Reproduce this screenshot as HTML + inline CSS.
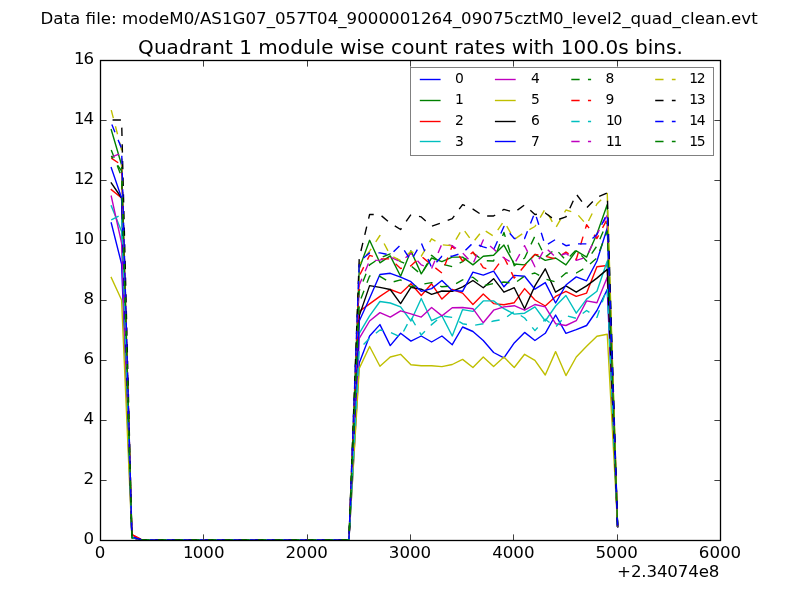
<!DOCTYPE html>
<html><head><meta charset="utf-8"><title>Quadrant 1 module wise count rates</title>
<style>html,body{margin:0;padding:0;background:#fff;width:800px;height:600px;overflow:hidden}svg{display:block;will-change:transform}</style></head><body>
<svg width="800" height="600" viewBox="0 0 800 600">
<defs><clipPath id="ax"><rect x="100" y="60" width="620" height="480"/></clipPath></defs>
<rect width="800" height="600" fill="#fff"/>
<g clip-path="url(#ax)" fill="none" stroke-width="1.39" stroke-linecap="square" stroke-linejoin="round">
<path d="M111.26 222.9 L121.6 264 L131.93 537.6 L142.26 540 L152.6 540 L162.93 540 L173.26 540 L183.6 540 L193.93 540 L204.26 540 L214.6 540 L224.93 540 L235.26 540 L245.6 540 L255.93 540 L266.26 540 L276.6 540 L286.93 540 L297.26 540 L307.6 540 L317.93 540 L328.26 540 L338.6 540 L348.93 540 L359.26 363 L369.6 336 L379.93 324.6 L390.26 345.6 L400.6 333.3 L410.93 341.1 L421.26 336 L431.6 342 L441.93 336 L452.26 344.7 L462.6 327 L472.93 331.5 L483.26 340.5 L493.6 352.5 L503.93 357.9 L514.26 342.9 L524.6 332.4 L534.93 340.5 L545.26 333.3 L555.6 315 L565.93 333.3 L576.26 329.7 L586.6 325.5 L596.93 310.5 L607.26 289.5 L617.6 526.5" stroke="#0000ff"/>
<path d="M111.26 129.6 L121.6 165 L131.93 537.6 L142.26 540 L152.6 540 L162.93 540 L173.26 540 L183.6 540 L193.93 540 L204.26 540 L214.6 540 L224.93 540 L235.26 540 L245.6 540 L255.93 540 L266.26 540 L276.6 540 L286.93 540 L297.26 540 L307.6 540 L317.93 540 L328.26 540 L338.6 540 L348.93 540 L359.26 268.5 L369.6 240.3 L379.93 262.8 L390.26 255.9 L400.6 276.3 L410.93 250.8 L421.26 273.9 L431.6 258 L441.93 261.6 L452.26 257.1 L462.6 257.1 L472.93 264.9 L483.26 256.2 L493.6 255.3 L503.93 245.1 L514.26 264 L524.6 264.9 L534.93 254.4 L545.26 260.4 L555.6 258 L565.93 264.9 L576.26 250.8 L586.6 257.1 L596.93 234 L607.26 204.6 L617.6 526.5" stroke="#008000"/>
<path d="M111.26 189.6 L121.6 198 L131.93 534.6 L142.26 540 L152.6 540 L162.93 540 L173.26 540 L183.6 540 L193.93 540 L204.26 540 L214.6 540 L224.93 540 L235.26 540 L245.6 540 L255.93 540 L266.26 540 L276.6 540 L286.93 540 L297.26 540 L307.6 540 L317.93 540 L328.26 540 L338.6 540 L348.93 540 L359.26 311.4 L369.6 303.9 L379.93 296.4 L390.26 289.5 L400.6 293.4 L410.93 283.8 L421.26 295.5 L431.6 283.8 L441.93 299.1 L452.26 289.5 L462.6 293.1 L472.93 304.5 L483.26 294 L493.6 303.6 L503.93 304.8 L514.26 302.7 L524.6 288.6 L534.93 300 L545.26 306 L555.6 296.4 L565.93 291.3 L576.26 296.4 L586.6 293.1 L596.93 266.7 L607.26 265.5 L617.6 526.5" stroke="#ff0000"/>
<path d="M111.26 205.8 L121.6 231.6 L131.93 537.6 L142.26 540 L152.6 540 L162.93 540 L173.26 540 L183.6 540 L193.93 540 L204.26 540 L214.6 540 L224.93 540 L235.26 540 L245.6 540 L255.93 540 L266.26 540 L276.6 540 L286.93 540 L297.26 540 L307.6 540 L317.93 540 L328.26 540 L338.6 540 L348.93 540 L359.26 333.3 L369.6 315.9 L379.93 301.5 L390.26 303 L400.6 306.9 L410.93 321 L421.26 298.5 L431.6 320.7 L441.93 315.9 L452.26 336 L462.6 309.6 L472.93 311.4 L483.26 300.9 L493.6 300.9 L503.93 308.7 L514.26 314.1 L524.6 313.2 L534.93 306.9 L545.26 321 L555.6 306 L565.93 295.5 L576.26 313.2 L586.6 299.1 L596.93 291.3 L607.26 261 L617.6 526.5" stroke="#00bfbf"/>
<path d="M111.26 196.2 L121.6 243 L131.93 537.6 L142.26 540 L152.6 540 L162.93 540 L173.26 540 L183.6 540 L193.93 540 L204.26 540 L214.6 540 L224.93 540 L235.26 540 L245.6 540 L255.93 540 L266.26 540 L276.6 540 L286.93 540 L297.26 540 L307.6 540 L317.93 540 L328.26 540 L338.6 540 L348.93 540 L359.26 338.4 L369.6 321 L379.93 312.6 L390.26 317.1 L400.6 310.8 L410.93 313.8 L421.26 317.1 L431.6 307.5 L441.93 315.9 L452.26 307.8 L462.6 307.5 L472.93 308.7 L483.26 322.8 L493.6 310.2 L503.93 306.9 L514.26 305.7 L524.6 310.2 L534.93 304.5 L545.26 306.9 L555.6 323.7 L565.93 325.5 L576.26 320.7 L586.6 300.9 L596.93 302.7 L607.26 277.2 L617.6 526.5" stroke="#bf00bf"/>
<path d="M111.26 277.5 L121.6 300 L131.93 537.6 L142.26 540 L152.6 540 L162.93 540 L173.26 540 L183.6 540 L193.93 540 L204.26 540 L214.6 540 L224.93 540 L235.26 540 L245.6 540 L255.93 540 L266.26 540 L276.6 540 L286.93 540 L297.26 540 L307.6 540 L317.93 540 L328.26 540 L338.6 540 L348.93 540 L359.26 368.4 L369.6 346.5 L379.93 366.3 L390.26 357 L400.6 354.3 L410.93 364.8 L421.26 365.7 L431.6 365.7 L441.93 366.6 L452.26 364.5 L462.6 359.4 L472.93 367.5 L483.26 357 L493.6 366.6 L503.93 357 L514.26 367.5 L524.6 354.3 L534.93 360.3 L545.26 375 L555.6 351.6 L565.93 375.6 L576.26 357 L586.6 346.2 L596.93 336.3 L607.26 334.2 L617.6 526.5" stroke="#bfbf00"/>
<path d="M111.26 183 L121.6 198 L131.93 537.6 L142.26 540 L152.6 540 L162.93 540 L173.26 540 L183.6 540 L193.93 540 L204.26 540 L214.6 540 L224.93 540 L235.26 540 L245.6 540 L255.93 540 L266.26 540 L276.6 540 L286.93 540 L297.26 540 L307.6 540 L317.93 540 L328.26 540 L338.6 540 L348.93 540 L359.26 315.9 L369.6 285.6 L379.93 287.4 L390.26 289.5 L400.6 303.6 L410.93 287.4 L421.26 289.2 L431.6 294.3 L441.93 291 L452.26 291.3 L462.6 286.8 L472.93 280.5 L483.26 287.7 L493.6 278.7 L503.93 292.2 L514.26 287.7 L524.6 308.7 L534.93 285.9 L545.26 268.8 L555.6 292.2 L565.93 285.9 L576.26 292.2 L586.6 285.9 L596.93 278.1 L607.26 269.4 L617.6 526.5" stroke="#000000"/>
<path d="M111.26 167.7 L121.6 198 L131.93 537 L142.26 540 L152.6 540 L162.93 540 L173.26 540 L183.6 540 L193.93 540 L204.26 540 L214.6 540 L224.93 540 L235.26 540 L245.6 540 L255.93 540 L266.26 540 L276.6 540 L286.93 540 L297.26 540 L307.6 540 L317.93 540 L328.26 540 L338.6 540 L348.93 540 L359.26 321 L369.6 298.2 L379.93 274.5 L390.26 273.3 L400.6 277.2 L410.93 281.7 L421.26 291.3 L431.6 288.6 L441.93 280.5 L452.26 290.4 L462.6 291.3 L472.93 272.1 L483.26 275.1 L493.6 271.2 L503.93 286.8 L514.26 275.4 L524.6 276.3 L534.93 289.2 L545.26 282.6 L555.6 303 L565.93 285 L576.26 276.9 L586.6 280.8 L596.93 261 L607.26 228 L617.6 526.5" stroke="#0000ff"/>
<path d="M111.26 150 L121.6 177 L131.93 537.6 L142.26 540 L152.6 540 L162.93 540 L173.26 540 L183.6 540 L193.93 540 L204.26 540 L214.6 540 L224.93 540 L235.26 540 L245.6 540 L255.93 540 L266.26 540 L276.6 540 L286.93 540 L297.26 540 L307.6 540 L317.93 540 L328.26 540 L338.6 540 L348.93 540 L359.26 291 L369.6 264.9 L379.93 258 L390.26 253.8 L400.6 261.6 L410.93 265.8 L421.26 274.5 L431.6 255.3 L441.93 264 L452.26 266.7 L462.6 261.6 L472.93 252.9 L483.26 260.7 L493.6 261 L503.93 232.5 L514.26 265.8 L524.6 258 L534.93 236.1 L545.26 257.1 L555.6 249 L565.93 260.4 L576.26 249.9 L586.6 261 L596.93 246 L607.26 222 L617.6 526.5" stroke="#008000" stroke-dasharray="8.33 8.33" stroke-linecap="butt"/>
<path d="M111.26 158.1 L121.6 165 L131.93 534.6 L142.26 540 L152.6 540 L162.93 540 L173.26 540 L183.6 540 L193.93 540 L204.26 540 L214.6 540 L224.93 540 L235.26 540 L245.6 540 L255.93 540 L266.26 540 L276.6 540 L286.93 540 L297.26 540 L307.6 540 L317.93 540 L328.26 540 L338.6 540 L348.93 540 L359.26 276 L369.6 255.3 L379.93 258.9 L390.26 258.9 L400.6 268.5 L410.93 265.8 L421.26 256.2 L431.6 264.9 L441.93 273 L452.26 245.7 L462.6 261 L472.93 252 L483.26 267.6 L493.6 270.9 L503.93 257.1 L514.26 278.1 L524.6 265.8 L534.93 254.4 L545.26 256.2 L555.6 258.9 L565.93 252 L576.26 259.5 L586.6 224.7 L596.93 238.5 L607.26 219 L617.6 526.5" stroke="#ff0000" stroke-dasharray="8.33 8.33" stroke-linecap="butt"/>
<path d="M111.26 219.9 L121.6 214.5 L131.93 537.6 L142.26 540 L152.6 540 L162.93 540 L173.26 540 L183.6 540 L193.93 540 L204.26 540 L214.6 540 L224.93 540 L235.26 540 L245.6 540 L255.93 540 L266.26 540 L276.6 540 L286.93 540 L297.26 540 L307.6 540 L317.93 540 L328.26 540 L338.6 540 L348.93 540 L359.26 348.9 L369.6 338.4 L379.93 330 L390.26 332.4 L400.6 336.9 L410.93 317.4 L421.26 335.1 L431.6 324.6 L441.93 315.9 L452.26 317.4 L462.6 323.7 L472.93 325.5 L483.26 323.7 L493.6 321 L503.93 319.2 L514.26 311.4 L524.6 318 L534.93 330.6 L545.26 319.2 L555.6 327 L565.93 315.6 L576.26 318.3 L586.6 310.5 L596.93 317.4 L607.26 287.7 L617.6 526.5" stroke="#00bfbf" stroke-dasharray="8.33 8.33" stroke-linecap="butt"/>
<path d="M111.26 157.2 L121.6 153 L131.93 537 L142.26 540 L152.6 540 L162.93 540 L173.26 540 L183.6 540 L193.93 540 L204.26 540 L214.6 540 L224.93 540 L235.26 540 L245.6 540 L255.93 540 L266.26 540 L276.6 540 L286.93 540 L297.26 540 L307.6 540 L317.93 540 L328.26 540 L338.6 540 L348.93 540 L359.26 285 L369.6 260.7 L379.93 260.1 L390.26 257.1 L400.6 261.6 L410.93 253.5 L421.26 264.9 L431.6 268.5 L441.93 243.9 L452.26 245.7 L462.6 252.9 L472.93 264 L483.26 240 L493.6 249 L503.93 258 L514.26 264 L524.6 245.7 L534.93 266.7 L545.26 247.5 L555.6 257.1 L565.93 253.5 L576.26 260.4 L586.6 257.1 L596.93 234.3 L607.26 215.1 L617.6 526.5" stroke="#bf00bf" stroke-dasharray="8.33 8.33" stroke-linecap="butt"/>
<path d="M111.26 110.1 L121.6 150 L131.93 537 L142.26 540 L152.6 540 L162.93 540 L173.26 540 L183.6 540 L193.93 540 L204.26 540 L214.6 540 L224.93 540 L235.26 540 L245.6 540 L255.93 540 L266.26 540 L276.6 540 L286.93 540 L297.26 540 L307.6 540 L317.93 540 L328.26 540 L338.6 540 L348.93 540 L359.26 264 L369.6 251.1 L379.93 235.5 L390.26 255.3 L400.6 260.7 L410.93 251.4 L421.26 256.2 L431.6 238.8 L441.93 244.8 L452.26 245.7 L462.6 228.3 L472.93 242.4 L483.26 229.5 L493.6 236.1 L503.93 221.1 L514.26 239.4 L524.6 232.2 L534.93 226.5 L545.26 208.8 L555.6 228 L565.93 210 L576.26 213 L586.6 224.7 L596.93 204 L607.26 193.5 L617.6 526.5" stroke="#bfbf00" stroke-dasharray="8.33 8.33" stroke-linecap="butt"/>
<path d="M111.26 120 L121.6 120 L131.93 537 L142.26 540 L152.6 540 L162.93 540 L173.26 540 L183.6 540 L193.93 540 L204.26 540 L214.6 540 L224.93 540 L235.26 540 L245.6 540 L255.93 540 L266.26 540 L276.6 540 L286.93 540 L297.26 540 L307.6 540 L317.93 540 L328.26 540 L338.6 540 L348.93 540 L359.26 258 L369.6 214.5 L379.93 214.5 L390.26 223.2 L400.6 229.5 L410.93 214.5 L421.26 216.9 L431.6 226.2 L441.93 222.6 L452.26 218.7 L462.6 204.6 L472.93 209.1 L483.26 216 L493.6 216 L503.93 209.4 L514.26 212.4 L524.6 204.9 L534.93 214.5 L545.26 213 L555.6 220.5 L565.93 216.9 L576.26 194.1 L586.6 207.9 L596.93 197.4 L607.26 192.9 L617.6 526.5" stroke="#000000" stroke-dasharray="8.33 8.33" stroke-linecap="butt" stroke-dashoffset="15.35"/>
<path d="M111.26 123 L121.6 148.5 L131.93 537 L142.26 540 L152.6 540 L162.93 540 L173.26 540 L183.6 540 L193.93 540 L204.26 540 L214.6 540 L224.93 540 L235.26 540 L245.6 540 L255.93 540 L266.26 540 L276.6 540 L286.93 540 L297.26 540 L307.6 540 L317.93 540 L328.26 540 L338.6 540 L348.93 540 L359.26 261.6 L369.6 252.9 L379.93 252.9 L390.26 255 L400.6 244.8 L410.93 260.7 L421.26 243 L431.6 267.6 L441.93 256.2 L452.26 256.2 L462.6 252.9 L472.93 243 L483.26 246.9 L493.6 249.9 L503.93 226.5 L514.26 238.5 L524.6 238.5 L534.93 212.4 L545.26 245.7 L555.6 239.4 L565.93 245.7 L576.26 243.9 L586.6 243.9 L596.93 234.3 L607.26 213.3 L617.6 526.5" stroke="#0000ff" stroke-dasharray="8.33 8.33" stroke-linecap="butt" stroke-dashoffset="15.12"/>
<path d="M111.26 156 L121.6 171 L131.93 537.6 L142.26 540 L152.6 540 L162.93 540 L173.26 540 L183.6 540 L193.93 540 L204.26 540 L214.6 540 L224.93 540 L235.26 540 L245.6 540 L255.93 540 L266.26 540 L276.6 540 L286.93 540 L297.26 540 L307.6 540 L317.93 540 L328.26 540 L338.6 540 L348.93 540 L359.26 303 L369.6 276 L379.93 276.3 L390.26 282.6 L400.6 279.9 L410.93 286.8 L421.26 284.4 L431.6 282.6 L441.93 286.8 L452.26 285.9 L462.6 279.9 L472.93 277.2 L483.26 285.9 L493.6 283.5 L503.93 282 L514.26 283.5 L524.6 276 L534.93 273 L545.26 279 L555.6 282 L565.93 273 L576.26 273 L586.6 267 L596.93 258 L607.26 231 L617.6 526.5" stroke="#008000" stroke-dasharray="8.33 8.33" stroke-linecap="butt" stroke-dashoffset="5.3"/>
</g>
<g stroke="#404040" stroke-width="1" fill="none">
<path d="M100.5 540.5V534.4M100.5 60.5V66.6M203.5 540.5V534.4M203.5 60.5V66.6M307.5 540.5V534.4M307.5 60.5V66.6M410.5 540.5V534.4M410.5 60.5V66.6M513.5 540.5V534.4M513.5 60.5V66.6M617.5 540.5V534.4M617.5 60.5V66.6M720.5 540.5V534.4M720.5 60.5V66.6M100.5 540.5H106.6M720.5 540.5H714.4M100.5 480.5H106.6M720.5 480.5H714.4M100.5 420.5H106.6M720.5 420.5H714.4M100.5 360.5H106.6M720.5 360.5H714.4M100.5 300.5H106.6M720.5 300.5H714.4M100.5 240.5H106.6M720.5 240.5H714.4M100.5 180.5H106.6M720.5 180.5H714.4M100.5 120.5H106.6M720.5 120.5H714.4M100.5 60.5H106.6M720.5 60.5H714.4"/>
</g>
<rect x="100.5" y="60.5" width="620" height="480" fill="none" stroke="#000" stroke-width="1.3"/>
<g font-family="&quot;DejaVu Sans&quot;, sans-serif" fill="#000">
<text x="399.1" y="23.9" font-size="16.67" text-anchor="middle" textLength="717.2" lengthAdjust="spacing">Data file: modeM0/AS1G07_057T04_9000001264_09075cztM0_level2_quad_clean.evt</text>
<text x="410.5" y="54.2" font-size="20" text-anchor="middle" textLength="544.8" lengthAdjust="spacing">Quadrant 1 module wise count rates with 100.0s bins.</text>
<g font-size="16.67" text-anchor="middle">
<text x="100" y="558.2">0</text>
<text x="203.73" y="558.2">1<tspan dx="-0.8">000</tspan></text>
<text x="306.67" y="558.2">2000</text>
<text x="410" y="558.2">3000</text>
<text x="513.33" y="558.2">4000</text>
<text x="616.67" y="558.2">5000</text>
<text x="720" y="558.2">6000</text>
</g>
<text x="719.4" y="576.8" font-size="16.67" text-anchor="end" textLength="102.3" lengthAdjust="spacing">+2.34074e8</text>
<g font-size="16.67" text-anchor="end">
<text x="94" y="543.6">0</text>
<text x="94" y="483.6">2</text>
<text x="94" y="423.6">4</text>
<text x="94" y="363.6">6</text>
<text x="94" y="303.6">8</text>
<text x="94" y="243.6">1<tspan dx="-1.2">0</tspan></text>
<text x="94" y="183.6">1<tspan dx="-1.2">2</tspan></text>
<text x="94" y="123.6">1<tspan dx="-1.2">4</tspan></text>
<text x="94" y="63.6">1<tspan dx="-1.2">6</tspan></text>
</g>
</g>
<rect x="410.5" y="67.5" width="303" height="88" fill="#fff" stroke="#808080" stroke-width="1"/>
<g stroke-width="1.39" fill="none">
<path d="M420.5 79.5H439.9" stroke="#0000ff" stroke-linecap="square"/>
<path d="M420.5 100.5H439.9" stroke="#008000" stroke-linecap="square"/>
<path d="M420.5 121.5H439.9" stroke="#ff0000" stroke-linecap="square"/>
<path d="M420.5 141.5H439.9" stroke="#00bfbf" stroke-linecap="square"/>
<path d="M495.6 79.5H515" stroke="#bf00bf" stroke-linecap="square"/>
<path d="M495.6 100.5H515" stroke="#bfbf00" stroke-linecap="square"/>
<path d="M495.6 121.5H515" stroke="#000000" stroke-linecap="square"/>
<path d="M495.6 141.5H515" stroke="#0000ff" stroke-linecap="square"/>
<path d="M571.3 79.5H591.1" stroke="#008000" stroke-dasharray="8.33 8.33"/>
<path d="M571.3 100.5H591.1" stroke="#ff0000" stroke-dasharray="8.33 8.33"/>
<path d="M571.3 121.5H591.1" stroke="#00bfbf" stroke-dasharray="8.33 8.33"/>
<path d="M571.3 141.5H591.1" stroke="#bf00bf" stroke-dasharray="8.33 8.33"/>
<path d="M655.2 79.5H675.6" stroke="#bfbf00" stroke-dasharray="8.33 8.33"/>
<path d="M655.2 100.5H675.6" stroke="#000000" stroke-dasharray="8.33 8.33"/>
<path d="M655.2 121.5H675.6" stroke="#0000ff" stroke-dasharray="8.33 8.33"/>
<path d="M655.2 141.5H675.6" stroke="#008000" stroke-dasharray="8.33 8.33"/>
</g>
<g font-family="&quot;DejaVu Sans&quot;, sans-serif" font-size="13.88">
<text x="454.9" y="83.1">0</text>
<text x="454.9" y="104.1">1</text>
<text x="454.9" y="125.1">2</text>
<text x="454.9" y="146.1">3</text>
<text x="531.1" y="83.1">4</text>
<text x="531.1" y="104.1">5</text>
<text x="531.1" y="125.1">6</text>
<text x="531.1" y="146.1">7</text>
<text x="605.4" y="83.1">8</text>
<text x="605.4" y="104.1">9</text>
<text x="605.9" y="125.1" letter-spacing="-1.2">10</text>
<text x="605.9" y="146.1" letter-spacing="-1.2">11</text>
<text x="689.2" y="83.1" letter-spacing="-1.2">12</text>
<text x="689.2" y="104.1" letter-spacing="-1.2">13</text>
<text x="689.2" y="125.1" letter-spacing="-1.2">14</text>
<text x="689.2" y="146.1" letter-spacing="-1.2">15</text>
</g>
</svg>
</body></html>
